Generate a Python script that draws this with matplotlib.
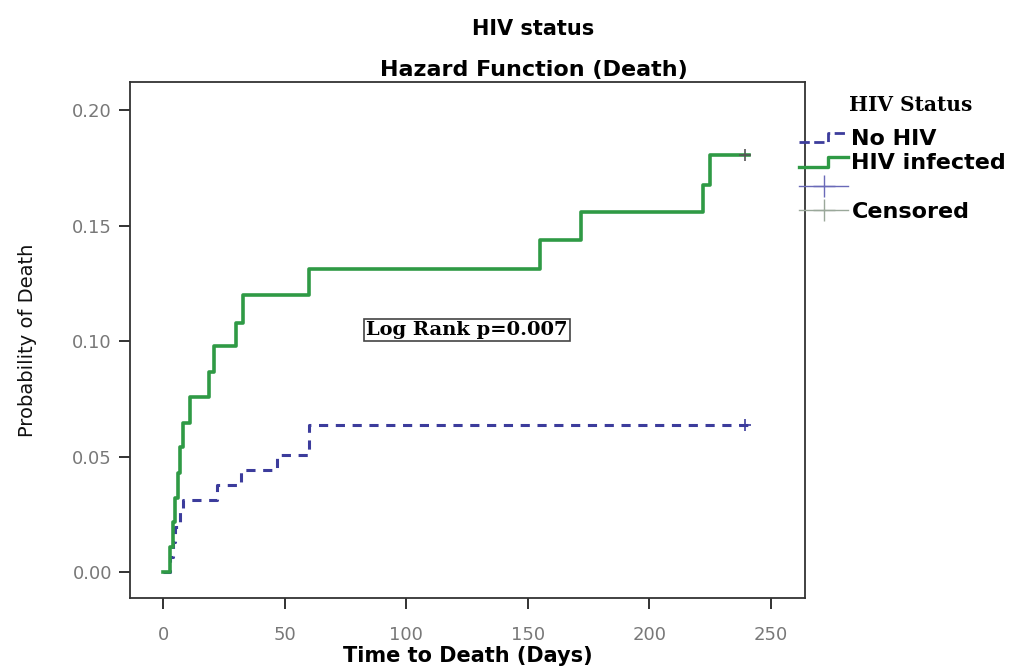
import matplotlib
matplotlib.use("Agg")
import matplotlib.pyplot as plt
from matplotlib.lines import Line2D
from matplotlib.legend_handler import HandlerBase

# ---- data ----
hiv_times = [0, 3, 4, 5, 6, 7, 8, 11, 19, 21, 30, 33, 60, 155, 172, 222, 225, 241]
hiv_vals = [0, 0.0108, 0.0215, 0.032, 0.043, 0.054, 0.0645, 0.0756, 0.0864,
            0.098, 0.108, 0.120, 0.131, 0.1437, 0.156, 0.1675, 0.1805, 0.1805]
nohiv_times = [0, 3, 4, 5, 7, 8, 22, 32, 47, 60, 241]
nohiv_vals = [0, 0.0065, 0.013, 0.0195, 0.026, 0.031, 0.0377, 0.0442, 0.0506, 0.0636, 0.0636]
censor_time = 239.5
xticks = [0, 50, 100, 150, 200, 250]
yticks = [0.00, 0.05, 0.10, 0.15, 0.20]
ytick_labels = ["0.00", "0.05", "0.10", "0.15", "0.20"]
legend_labels = ["No HIV", "HIV infected", "", "Censored"]

green = "#2f9a45"
blue = "#3c3c9c"

plt.rcParams['font.family'] = ['DejaVu Sans']


class StepHandler(HandlerBase):
    def create_artists(self, legend, orig_handle, xdescent, ydescent, width, height,
                       fontsize, trans):
        x0 = -xdescent
        y0 = -ydescent
        xs = [x0, x0 + 0.58 * width, x0 + 0.58 * width, x0 + width]
        ys = [y0 + 0.15 * height, y0 + 0.15 * height, y0 + 0.75 * height, y0 + 0.75 * height]
        ln = Line2D(xs, ys, color=orig_handle.get_color(), lw=orig_handle.get_linewidth(),
                    linestyle=orig_handle.get_linestyle(), transform=trans)
        return [ln]


fig = plt.figure(figsize=(10.16, 6.68), dpi=100)
ax = fig.add_axes([0.128, 0.105, 0.664, 0.772])

ax.step(nohiv_times, nohiv_vals, where='post', color=blue, lw=2.2,
        linestyle=(0, (3, 2.5)), zorder=2)
ax.step(hiv_times, hiv_vals, where='post', color=green, lw=2.6, zorder=3)
ax.plot([censor_time], [hiv_vals[-1]], marker='+', color='#555555', ms=9, mew=1.2, zorder=4)
ax.plot([censor_time], [nohiv_vals[-1]], marker='+', color=blue, ms=9, mew=1.2, zorder=4)

ax.set_xlim(-13.6, 264)
ax.set_ylim(-0.0112, 0.2121)
ax.set_xticks(xticks)
ax.set_yticks(yticks)
ax.set_yticklabels(ytick_labels)
ax.tick_params(axis='both', direction='out', length=8, width=1.3, colors='#222222',
               labelsize=13, labelcolor='#787878')
ax.tick_params(axis='x', pad=12)
ax.tick_params(axis='y', pad=5)
for s in ax.spines.values():
    s.set_linewidth(1.3)
    s.set_color('#333333')

ax.set_ylabel("Probability of Death", fontsize=14, labelpad=25, color='#111111')
ax.set_xlabel("Time to Death (Days)", fontsize=15, fontweight='bold', labelpad=2)

ax.text(125, 0.1048, "Log Rank p=0.007", family=['DejaVu Serif'],
        fontsize=14, fontweight='bold', ha='center', va='center',
        bbox=dict(boxstyle='square,pad=0.12', fc='white', ec='#444444', lw=1.2))

fig.text(0.525, 0.957, "HIV status", ha='center', va='center', fontsize=15, fontweight='bold')
fig.text(0.525, 0.895, "Hazard Function (Death)", ha='center', va='center',
         fontsize=16, fontweight='bold')

# legend title (separate, right of plot)
fig.text(0.896, 0.843, "HIV Status", ha='center', va='center', family=['DejaVu Serif'],
         fontsize=14.5, fontweight='bold')

h_nohiv = Line2D([], [], color=blue, lw=2.0, linestyle=(0, (2.5, 2)))
h_hiv = Line2D([], [], color=green, lw=2.4)
h_c1 = Line2D([], [], color='#6a6ab8', lw=1.0, marker='+', ms=16, mew=1.0)
h_c2 = Line2D([], [], color='#9aa89a', lw=1.0, marker='+', ms=16, mew=1.0)
handles = [h_nohiv, h_hiv, h_c1, h_c2]
leg = ax.legend(handles, legend_labels, loc='upper left',
                bbox_to_anchor=(0.992, 0.91), frameon=False, fontsize=16,
                handlelength=2.2, handletextpad=0.15, labelspacing=0.2,
                borderaxespad=0.0, borderpad=0.0,
                handler_map={h_nohiv: StepHandler(), h_hiv: StepHandler()})
for txt in leg.get_texts():
    txt.set_fontweight('bold')

fig.savefig("out.png", dpi=100, facecolor='white')
